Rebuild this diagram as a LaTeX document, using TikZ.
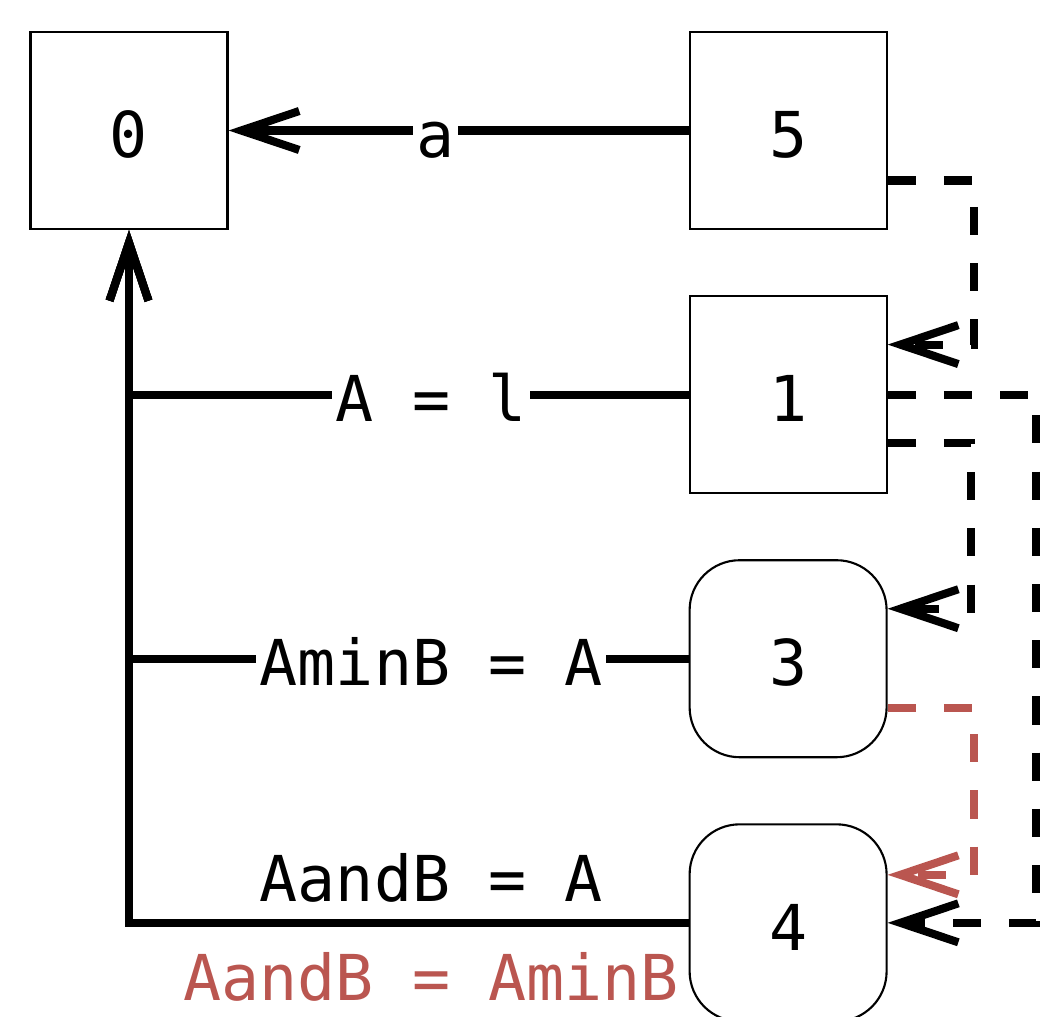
\documentclass[tikz,border=0pt]{standalone}
\usepackage{fontspec}
\setmainfont{DejaVu Sans Mono}
\usetikzlibrary{arrows.meta, positioning}
\definecolor{flowred}{RGB}{186,86,80}
\tikzset{
    box/.style={draw, line width=0.6pt, minimum size=1.97cm, inner sep=0pt,
        text height=15.5pt, text depth=0pt, font=\fontsize{18}{22}\selectfont},
    rbox/.style={box, rounded corners=0.5cm},
    link/.style={line width=2.3pt, -{Straight Barb[length=5.8mm, width=3.9mm]}},
    jump/.style={link, dash pattern=on 8pt off 8pt},
    lbl/.style={inner sep=0pt, outer sep=0pt, text height=15.5pt, text depth=0pt,
        font=\fontsize{18}{22}\selectfont},
    cut/.style={lbl, inner sep=1pt, fill=white}
}

\begin{document}
\begin{tikzpicture}
        % Fix the page size
        \useasboundingbox (0,0) rectangle (10.48,-10.16);
        % Draw the states
        \node[box] (n0) at (1.29,-1.305) {0};
        \node[box, right=4.6cm of n0] (n5) {5};
        \node[box, below=0.65cm of n5] (n1) {1};
        \node[rbox, below=0.65cm of n1] (n3) {3};
        \node[rbox, below=0.65cm of n3] (n4) {4};
        % Draw the edges into state 0
        \draw[link] (n5.west) -- node[cut, pos=0.55] {a} (n0.east);
        \draw[link] (n1.west) -| node[cut, pos=0.23] {A = l} (n0.south);
        \draw[link] (n3.west) -| node[cut, pos=0.23] {AminB = A} (n0.south);
        \draw[link] (n4.west) -| node[lbl, above=6pt, pos=0.23] {AandB = A}
            node[lbl, below=6.5pt, pos=0.23, text=flowred] {AandB = AminB} (n0.south);
        % Draw the dashed edges on the right
        \draw[jump] ([yshift=-0.5cm]n5.east) -- ++(0.86,0) |- ([yshift=0.5cm]n1.east);
        \draw[jump] ([yshift=-0.48cm]n1.east) -- ++(0.83,0) |- ([yshift=0.5cm]n3.east);
        \draw[jump] (n1.east) -- ++(1.48,0) |- (n4.east);
        \draw[jump, flowred] ([yshift=-0.49cm]n3.east) -- ++(0.86,0) |- ([yshift=0.48cm]n4.east);
    \end{tikzpicture}
\end{document}
